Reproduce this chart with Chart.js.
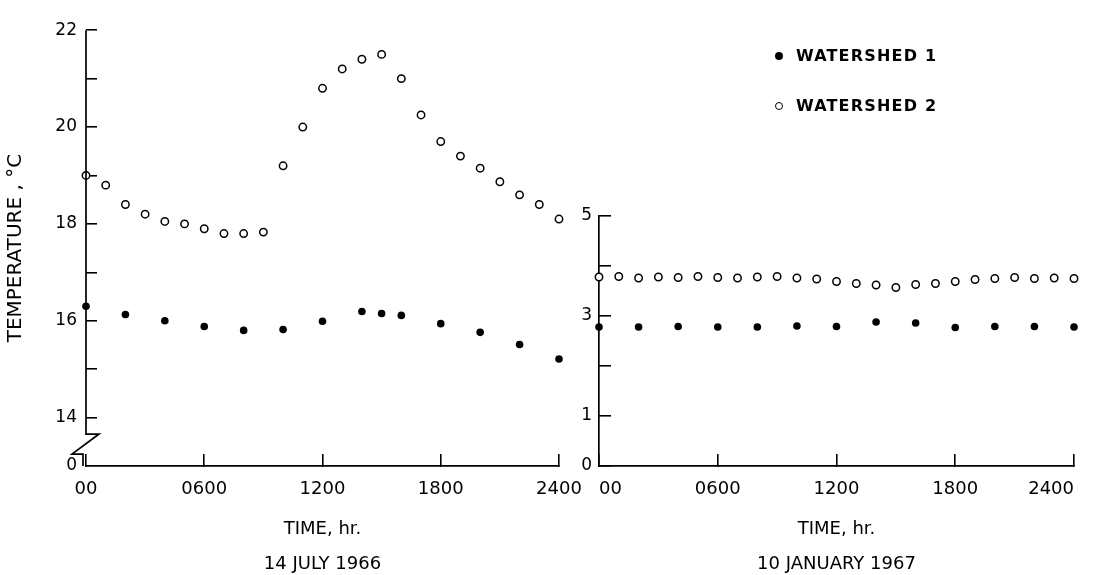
<!DOCTYPE html>
<html>
<head>
<meta charset="utf-8">
<script src="https://cdn.jsdelivr.net/npm/chart.js@4.4.1/dist/chart.umd.min.js"></script>
<style>
html, body { margin: 0; padding: 0; width: 1105px; height: 575px; overflow: hidden; background: #fff; }
#julyChart { position: absolute; left: 0; top: 0; }
#janChart { position: absolute; left: 560px; top: 0; }
.key { position: absolute; left: 775px; height: 20px; line-height: 20px; white-space: nowrap;
       font: bold 16px "DejaVu Sans"; letter-spacing: 1.2px; color: #000; }
.dot { display: inline-block; width: 8px; height: 8px; border-radius: 50%; box-sizing: border-box;
       margin-right: 13px; vertical-align: 1px; }
.dot.full { background: #000; }
.dot.open { background: #fff; border: 1.5px solid #000; }
</style>
</head>
<body>
<canvas id="julyChart" width="600" height="590"></canvas>
<canvas id="janChart" width="545" height="590"></canvas>
<div class="key" style="top:46px"><span class="dot full"></span>WATERSHED 1</div>
<div class="key" style="top:96px"><span class="dot open"></span>WATERSHED 2</div>

<script>
// 14 July 1966
const julyHours1 = [0, 2, 4, 6, 8, 10, 12, 14, 15, 16, 18, 20, 22, 24];
const julyWs1 = [16.3, 16.13, 16.0, 15.88, 15.8, 15.82, 15.99, 16.19, 16.15, 16.11, 15.94, 15.76, 15.51, 15.21];
const julyHours2 = [0, 1, 2, 3, 4, 5, 6, 7, 8, 9, 10, 11, 12, 13, 14, 15, 16, 17, 18, 19, 20, 21, 22, 23, 24];
const julyWs2 = [19.0, 18.8, 18.4, 18.2, 18.05, 18.0, 17.9, 17.8, 17.8, 17.83, 19.2, 20.0, 20.8, 21.2,
                 21.4, 21.5, 21.0, 20.25, 19.7, 19.4, 19.15, 18.87, 18.6, 18.4, 18.1];

// 10 January 1967
const janHours1 = [0, 2, 4, 6, 8, 10, 12, 14, 16, 18, 20, 22, 24];
const janWs1 = [2.78, 2.78, 2.79, 2.78, 2.78, 2.8, 2.79, 2.88, 2.86, 2.77, 2.79, 2.79, 2.78];
const janHours2 = [0, 1, 2, 3, 4, 5, 6, 7, 8, 9, 10, 11, 12, 13, 14, 15, 16, 17, 18, 19, 20, 21, 22, 23, 24];
const janWs2 = [3.78, 3.79, 3.76, 3.78, 3.77, 3.79, 3.77, 3.76, 3.78, 3.79, 3.76, 3.74, 3.69, 3.65,
                3.62, 3.57, 3.63, 3.65, 3.69, 3.73, 3.75, 3.77, 3.75, 3.76, 3.75];

// ticks
const xTickValues = [0, 6, 12, 18, 24];
const xTickLabels = ['00', '0600', '1200', '1800', '2400'];
const julyYTicks = [13, 14, 15, 16, 17, 18, 19, 20, 21, 22];
const julyYLabels = ['0', '14', '', '16', '', '18', '', '20', '', '22'];
const janYTicks = [0, 1, 2, 3, 4, 5];
const janYLabels = ['0', '1', '', '3', '', '5'];

Chart.defaults.font.family = '"DejaVu Sans", sans-serif';
Chart.defaults.color = '#000';

function pts(xs, ys) {
    return xs.map((x, i) => ({ x: x, y: ys[i] }));
}

function labelFrom(values, labels) {
    return function (v) {
        let i = values.indexOf(v);
        return i >= 0 ? labels[i] : '';
    };
}

function datasets(h1, w1, h2, w2) {
    return [
        { label: 'WATERSHED 1', data: pts(h1, w1), pointRadius: 3.8, backgroundColor: '#000',
          borderColor: '#000', borderWidth: 0, clip: false },
        { label: 'WATERSHED 2', data: pts(h2, w2), pointRadius: 3.7, backgroundColor: '#fff',
          borderColor: '#000', borderWidth: 1.5, clip: false }
    ];
}

function xScale(align, caption) {
    return {
        type: 'linear', min: 0, max: 24,
        grid: { drawOnChartArea: false, drawTicks: true, tickLength: -12, color: '#000', lineWidth: 1.6 },
        border: { display: true, color: '#000', width: 1.7 },
        ticks: { stepSize: 6, padding: 25, align: align, maxRotation: 0,
                 font: { size: 18 }, callback: labelFrom(xTickValues, xTickLabels) },
        title: { display: true, text: ['TIME, hr.', caption], font: { size: 18, lineHeight: 1.95 },
                 padding: { top: 0, bottom: 8 } },
        afterFit(s) { s.height = 124; s.paddingLeft = 0; s.paddingRight = 0; }
    };
}

// broken left axis between 14 and 0
const axisBreak = {
    id: 'axisBreak',
    afterDraw(chart) {
        let ctx = chart.ctx, y = chart.scales.y, area = chart.chartArea;
        let x0 = area.left, yb = y.getPixelForValue(13.66);
        ctx.save();
        ctx.strokeStyle = '#000';
        ctx.lineWidth = 1.7;
        ctx.beginPath();
        ctx.moveTo(x0, area.top);
        ctx.lineTo(x0, yb);
        ctx.lineTo(x0 + 13, yb);
        ctx.lineTo(x0 - 14, yb + 20);
        ctx.lineTo(x0 - 3, yb + 20);
        ctx.lineTo(x0 - 3, area.bottom);
        ctx.stroke();
        ctx.restore();
    }
};

new Chart(document.getElementById('julyChart'), {
    type: 'scatter',
    data: { datasets: datasets(julyHours1, julyWs1, julyHours2, julyWs2) },
    options: {
        responsive: false,
        animation: false,
        events: [],
        layout: { padding: { left: 0, top: 15, right: 41, bottom: 0 } },
        plugins: { legend: { display: false }, tooltip: { enabled: false } },
        scales: {
            x: xScale('center', '14 JULY 1966'),
            y: {
                type: 'linear', min: 13, max: 22,
                grid: { drawOnChartArea: false, drawTicks: true, tickLength: -11, lineWidth: 1.6,
                        color: c => (c.tick && c.tick.value === 13 ? 'rgba(0,0,0,0)' : '#000') },
                border: { display: false },
                ticks: { stepSize: 1, padding: 20, font: { size: 17 }, callback: labelFrom(julyYTicks, julyYLabels) },
                title: { display: true, text: 'TEMPERATURE , °C', font: { size: 20 }, padding: { top: 4, bottom: 0 } },
                afterFit(s) { s.width = 86; }
            }
        }
    },
    plugins: [axisBreak]
});

new Chart(document.getElementById('janChart'), {
    type: 'scatter',
    data: { datasets: datasets(janHours1, janWs1, janHours2, janWs2) },
    options: {
        responsive: false,
        animation: false,
        events: [],
        layout: { padding: { left: 0, top: 216, right: 31, bottom: 0 } },
        plugins: { legend: { display: false }, tooltip: { enabled: false } },
        scales: {
            x: xScale('inner', '10 JANUARY 1967'),
            y: {
                type: 'linear', min: 0, max: 5,
                grid: { drawOnChartArea: false, drawTicks: true, tickLength: -12, color: '#000', lineWidth: 1.6 },
                border: { display: true, color: '#000', width: 1.7 },
                ticks: { stepSize: 1, padding: 19, font: { size: 17 }, callback: labelFrom(janYTicks, janYLabels) },
                afterFit(s) { s.width = 39; }
            }
        }
    }
});
</script>
</body>
</html>
